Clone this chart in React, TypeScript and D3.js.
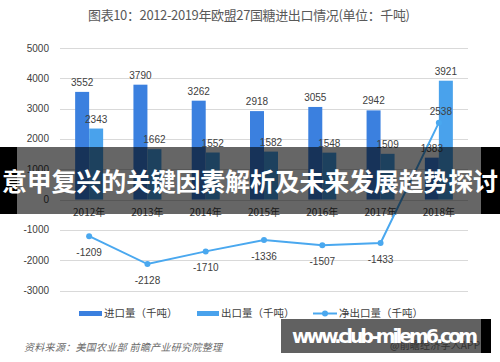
import React, { useEffect, useRef } from 'react';
import * as d3 from 'd3';

const years = ['2012年', '2013年', '2014年', '2015年', '2016年', '2017年', '2018年'];
const importVals = [3552, 3790, 3262, 2918, 3055, 2942, 1383];
const exportVals = [2343, 1662, 1552, 1582, 1548, 1509, 3921];
const netVals = [-1209, -2128, -1710, -1336, -1507, -1433, 2538];
const yTicks = [-3000, -2000, -1000, 0, 1000, 2000, 3000, 4000, 5000];
const legendNames = ['进口量（千吨）', '出口量（千吨）', '净出口量（千吨）'];

const title = '图表10：2012-2019年欧盟27国糖进出口情况(单位：千吨)';
const source = '资料来源：美国农业部 前瞻产业研究院整理';
const banner = '意甲复兴的关键因素解析及未来发展趋势探讨';

const W = 500;
const H = 362;

export default function App() {
  const ref = useRef<SVGSVGElement>(null);

  useEffect(() => {
    const svg = d3.select(ref.current);
    svg.selectAll('*').remove();
    svg.attr('width', W).attr('height', H);

    const cjk = '"Noto Sans CJK SC", "Noto Sans", sans-serif';
    const num = '"Liberation Sans", Arial, sans-serif';
    const impColor = '#3b80df';
    const expColor = '#49a2ec';
    const lineColor = '#4aa8ef';

    svg.append('rect').attr('width', W).attr('height', H).attr('fill', '#fff');

    const x = d3.scaleBand().domain(years).range([60, 468]).padding(0);
    const y = d3.scaleLinear().domain([-3000, 5000]).range([290.5, 48]);
    const x1 = d3
      .scaleBand()
      .domain(['imp', 'exp'])
      .range([x.bandwidth() / 2 - 14, x.bandwidth() / 2 + 14]);

    // title
    svg.append('text')
      .attr('x', 249).attr('y', 20)
      .attr('text-anchor', 'middle')
      .attr('textLength', 322)
      .style('font-family', cjk).style('font-size', '13px').attr('fill', '#595959')
      .text(title);

    // grid + y labels
    const g = svg.append('g');
    g.selectAll('.grid').data(yTicks).enter().append('line')
      .attr('x1', 60).attr('x2', 468)
      .attr('y1', (d) => Math.round(y(d)) + 0.5).attr('y2', (d) => Math.round(y(d)) + 0.5)
      .attr('stroke', '#d9d9d9').attr('stroke-width', 1);
    g.selectAll('.ylab').data(yTicks).enter().append('text')
      .attr('x', 49).attr('y', (d) => y(d) + 3.5)
      .attr('text-anchor', 'end')
      .style('font-family', num).style('font-size', '10px').attr('fill', '#404040')
      .text((d) => d);

    // bars
    const bars = g.selectAll('.yr').data(years).enter().append('g')
      .attr('transform', (d) => `translate(${x(d)},0)`);
    bars.append('rect')
      .attr('x', x1('imp')!).attr('width', x1.bandwidth())
      .attr('y', (_, i) => y(importVals[i])).attr('height', (_, i) => y(0) - y(importVals[i]))
      .attr('fill', impColor);
    bars.append('rect')
      .attr('x', x1('exp')!).attr('width', x1.bandwidth())
      .attr('y', (_, i) => y(exportVals[i])).attr('height', (_, i) => y(0) - y(exportVals[i]))
      .attr('fill', expColor);
    bars.append('text')
      .attr('x', x1('imp')! + x1.bandwidth() / 2).attr('y', (_, i) => y(importVals[i]) - 6)
      .attr('text-anchor', 'middle')
      .style('font-family', num).style('font-size', '10px').attr('fill', '#404040')
      .text((_, i) => importVals[i]);
    bars.append('text')
      .attr('x', x1('exp')! + x1.bandwidth() / 2).attr('y', (_, i) => y(exportVals[i]) - 6)
      .attr('text-anchor', 'middle')
      .style('font-family', num).style('font-size', '10px').attr('fill', '#404040')
      .text((_, i) => exportVals[i]);

    // x labels
    g.selectAll('.xlab').data(years).enter().append('text')
      .attr('x', (d) => x(d)! + x.bandwidth() / 2).attr('y', 216)
      .attr('text-anchor', 'middle')
      .style('font-family', cjk).style('font-size', '10px').attr('fill', '#404040')
      .text((d) => d);

    // net line
    const cx = (i: number) => x(years[i])! + x.bandwidth() / 2;
    const line = d3.line<number>().x((_, i) => cx(i)).y((d) => y(d));
    g.append('path').datum(netVals)
      .attr('d', line).attr('fill', 'none')
      .attr('stroke', lineColor).attr('stroke-width', 2);
    g.selectAll('.pt').data(netVals).enter().append('circle')
      .attr('cx', (_, i) => cx(i)).attr('cy', (d) => y(d)).attr('r', 3)
      .attr('fill', lineColor);
    g.selectAll('.nlab').data(netVals).enter().append('text')
      .attr('x', (_, i) => cx(i) + (netVals[i] > 0 ? 2 : 0))
      .attr('y', (d) => (d > 0 ? y(d) - 8 : y(d) + 19.5))
      .attr('text-anchor', 'middle')
      .style('font-family', num).style('font-size', '10px').attr('fill', '#404040')
      .text((d) => d);

    // legend
    const lg = svg.append('g').style('font-family', cjk).style('font-size', '10.5px').attr('fill', '#404040');
    lg.append('rect').attr('x', 79).attr('y', 311).attr('width', 23).attr('height', 5).attr('fill', impColor);
    lg.append('text').attr('x', 104).attr('y', 317).text(legendNames[0]);
    lg.append('rect').attr('x', 197).attr('y', 311).attr('width', 22).attr('height', 5).attr('fill', expColor);
    lg.append('text').attr('x', 221).attr('y', 317).text(legendNames[1]);
    lg.append('line').attr('x1', 313).attr('x2', 337).attr('y1', 313.5).attr('y2', 313.5)
      .attr('stroke', lineColor).attr('stroke-width', 2);
    lg.append('circle').attr('cx', 325).attr('cy', 313.5).attr('r', 3).attr('fill', lineColor);
    lg.append('text').attr('x', 339).attr('y', 317).text(legendNames[2]);

    // source
    svg.append('text')
      .attr('x', 24).attr('y', 351)
      .attr('textLength', 198)
      .style('font-family', cjk).style('font-size', '10px').style('font-style', 'italic')
      .attr('fill', '#6b6b6b')
      .text(source);
    svg.append('text')
      .attr('x', 480).attr('y', 349).attr('text-anchor', 'end')
      .attr('textLength', 90)
      .style('font-family', cjk).style('font-size', '10px').attr('fill', '#888')
      .text('@前瞻经济学人APP');

    // overlay banner
    svg.append('rect').attr('x', 0).attr('y', 147).attr('width', 17).attr('height', 67).attr('fill', '#000');
    svg.append('rect').attr('x', 481).attr('y', 147).attr('width', 19).attr('height', 67).attr('fill', '#000');
    svg.append('rect').attr('x', 17).attr('y', 147).attr('width', 464).attr('height', 67)
      .attr('fill', '#000').attr('fill-opacity', 0.6);
    svg.append('text')
      .attr('x', 2).attr('y', 191)
      .attr('textLength', 496)
      .style('font-family', cjk).style('font-size', '25px').style('font-weight', 'bold')
      .attr('fill', '#fff')
      .text(banner);

    // bottom watermark box
    svg.append('rect').attr('x', 281).attr('y', 319).attr('width', 200).attr('height', 34)
      .attr('fill', '#000').attr('fill-opacity', 0.62);
    svg.append('rect').attr('x', 481).attr('y', 319).attr('width', 10).attr('height', 34).attr('fill', '#000');
    svg.append('text')
      .attr('x', 292).attr('y', 343)
      .attr('textLength', 186)
      .style('font-family', '"DejaVu Sans", sans-serif').style('font-size', '19px').style('font-weight', 'bold')
      .attr('fill', '#fff')
      .text('www.club-milem6.com');
  }, []);

  return (
    <div style={{ position: 'fixed', left: 0, top: 0 }}>
      <svg ref={ref} style={{ display: 'block' }}></svg>
    </div>
  );
}
